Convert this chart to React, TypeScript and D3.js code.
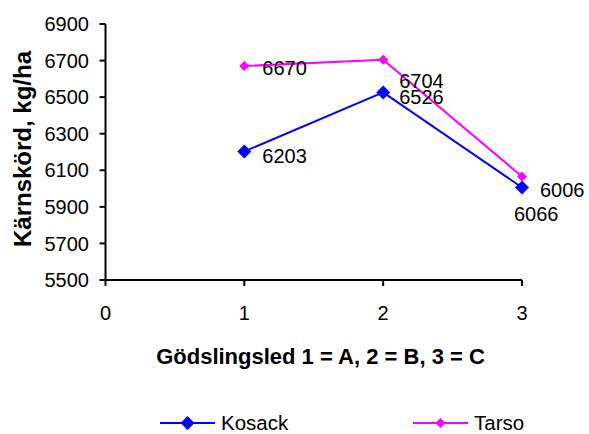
import React from "react";
import * as d3 from "d3";

const categories = [1, 2, 3];
const kosack = [6203, 6526, 6006];
const tarso = [6670, 6704, 6066];
const yTicks = [5500, 5700, 5900, 6100, 6300, 6500, 6700, 6900];
const xTicks = [0, 1, 2, 3];
const seriesNames = ["Kosack", "Tarso"];

// label offsets (px) relative to point
const kosackLabelOffsets = [
  [18, 4],
  [16, 4],
  [18, 2],
];
const tarsoLabelOffsets = [
  [18, 2],
  [16, 21],
  [-8, 37],
];

const W = 589;
const H = 434;
const FONT = "'Liberation Sans', Arial, sans-serif";

export default function App() {
  const x = d3.scaleLinear().domain([0, 3]).range([105.5, 522]);
  const y = d3.scaleLinear().domain([5500, 6900]).range([280, 24]);
  const line = d3
    .line<number>()
    .x((_, i) => x(categories[i]))
    .y((d) => y(d));

  const diamond = (cx: number, cy: number, r: number) =>
    `M${cx},${cy - r}L${cx + r},${cy}L${cx},${cy + r}L${cx - r},${cy}Z`;

  const series = [
    { name: seriesNames[0], data: kosack, color: "#0000FF", r: 7, offs: kosackLabelOffsets },
    { name: seriesNames[1], data: tarso, color: "#FF00FF", r: 5, offs: tarsoLabelOffsets },
  ];

  return (
    <svg
      width={W}
      height={H}
      style={{ position: "absolute", left: 0, top: 0, background: "#fff" }}
      fontFamily={FONT}
    >
      <rect width={W} height={H} fill="#fff" />
      {/* axes */}
      <line x1={x(0)} x2={x(0)} y1={y(6900)} y2={y(5500)} stroke="#000" strokeWidth={2} />
      <line x1={x(0) - 1} x2={x(3)} y1={y(5500)} y2={y(5500)} stroke="#000" strokeWidth={2} />
      {yTicks.map((t) => (
        <g key={"y" + t}>
          <line x1={x(0) - 6} x2={x(0)} y1={y(t)} y2={y(t)} stroke="#000" strokeWidth={2} />
          <text
            x={89}
            y={y(t)}
            dy="0.36em"
            textAnchor="end"
            fontSize={20}
            fill="#000"
          >
            {t}
          </text>
        </g>
      ))}
      {xTicks.map((t) => (
        <g key={"x" + t}>
          <line x1={x(t)} x2={x(t)} y1={y(5500)} y2={y(5500) + 6} stroke="#000" strokeWidth={2} />
          <text x={x(t)} y={313} dy="0.36em" textAnchor="middle" fontSize={20} fill="#000">
            {t}
          </text>
        </g>
      ))}
      {/* axis titles */}
      <text
        x={320.5}
        y={364}
        textAnchor="middle"
        fontSize={22}
        fontWeight="bold"
        fill="#000"
      >
        Gödslingsled 1 = A, 2 = B, 3 = C
      </text>
      <text
        transform={`translate(31,149) rotate(-90)`}
        textAnchor="middle"
        fontSize={24}
        fontWeight="bold"
        fill="#000"
      >
        Kärnskörd, kg/ha
      </text>
      {/* series */}
      {series.map((s) => (
        <g key={s.name}>
          <path d={line(s.data) || ""} fill="none" stroke={s.color} strokeWidth={2} />
          {s.data.map((v, i) => (
            <path key={i} d={diamond(x(categories[i]), y(v), s.r)} fill={s.color} />
          ))}
        </g>
      ))}
      {series.map((s) =>
        s.data.map((v, i) => (
          <text
            key={s.name + "l" + i}
            x={x(categories[i]) + s.offs[i][0]}
            y={y(v) + s.offs[i][1]}
            dy="0.36em"
            fontSize={20}
            fill="#000"
          >
            {v}
          </text>
        ))
      )}
      {/* legend */}
      {series.map((s, i) => {
        const lx = i === 0 ? 160 : 413;
        const ly = 423;
        return (
          <g key={"leg" + s.name}>
            <line x1={lx} x2={lx + 55} y1={ly} y2={ly} stroke={s.color} strokeWidth={2} />
            <path d={diamond(lx + 27.5, ly, s.r)} fill={s.color} />
            <text x={lx + 61} y={ly} dy="0.35em" fontSize={20.5} fill="#000">
              {s.name}
            </text>
          </g>
        );
      })}
    </svg>
  );
}
